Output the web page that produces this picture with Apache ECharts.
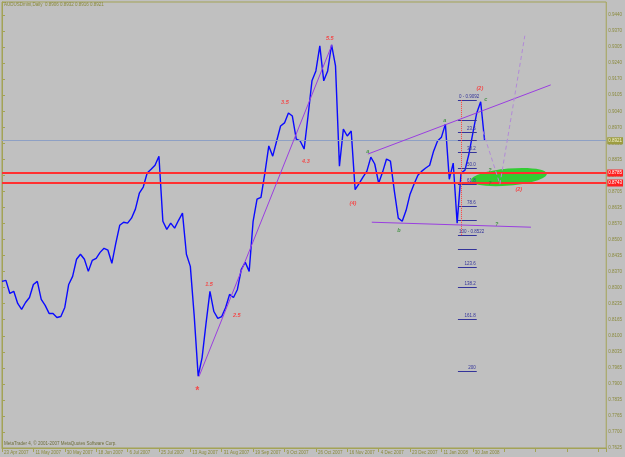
<!DOCTYPE html>
<html>
<head>
<meta charset="utf-8">
<title>AUDUSDmini,Daily</title>
<script src="https://cdn.jsdelivr.net/npm/echarts@6.0.0/dist/echarts.min.js"></script>
<style>
  html, body { margin: 0; padding: 0; background: #c0c0c0; }
  #chart { width: 625px; height: 457px; }
</style>
</head>
<body>
<div id="chart"></div>
<script>
// closes, one value every 2 daily bars
const closes = [
  0.8329, 0.8333, 0.8278, 0.8287, 0.8236, 0.8211, 0.8240, 0.8261, 0.8316, 0.8329,
  0.8253, 0.8228, 0.8194, 0.8194, 0.8177, 0.8181, 0.8219, 0.8316, 0.8350, 0.8422,
  0.8443, 0.8422, 0.8371, 0.8417, 0.8426, 0.8451, 0.8468, 0.8460, 0.8405, 0.8489,
  0.8565, 0.8578, 0.8574, 0.8595, 0.8633, 0.8700, 0.8726, 0.8785, 0.8801, 0.8818,
  0.8856, 0.8582, 0.8548, 0.8574, 0.8553, 0.8586, 0.8616, 0.8443, 0.8392, 0.8181,
  0.7930, 0.8008, 0.8152, 0.8287, 0.8202, 0.8173, 0.8181, 0.8219, 0.8274, 0.8261,
  0.8295, 0.8380, 0.8409, 0.8371, 0.8582, 0.8675, 0.8683, 0.8785, 0.8899, 0.8856,
  0.8920, 0.8983, 0.8996, 0.9038, 0.9025, 0.8928, 0.8920, 0.8886, 0.9025, 0.9173,
  0.9215, 0.9320, 0.9173, 0.9215, 0.9325, 0.9236, 0.8814, 0.8970, 0.8941, 0.8962,
  0.8715, 0.8740, 0.8768, 0.8793, 0.8852, 0.8823, 0.8742, 0.8789, 0.8844, 0.8835,
  0.8709, 0.8595, 0.8582, 0.8628, 0.8696, 0.8738, 0.8776, 0.8793, 0.8806, 0.8818,
  0.8877, 0.8920, 0.8936, 0.8991, 0.8759, 0.8827, 0.8574, 0.8785, 0.8797, 0.8865,
  0.8953, 0.9038, 0.9085, 0.8921
];
const BAR_STEP = 2;

const xLabels = ['23 Apr 2007', '11 May 2007', '30 May 2007', '18 Jun 2007', '6 Jul 2007',
  '25 Jul 2007', '13 Aug 2007', '31 Aug 2007', '19 Sep 2007', '9 Oct 2007', '26 Oct 2007',
  '16 Nov 2007', '4 Dec 2007', '23 Dec 2007', '11 Jan 2008', '30 Jan 2008'];
const X_STEP = 16, X_MAX = 308;

const yLabels = ['0.7625', '0.7700', '0.7765', '0.7835', '0.7900', '0.7965', '0.8035',
  '0.8100', '0.8165', '0.8235', '0.8300', '0.8370', '0.8435', '0.8500', '0.8570', '0.8635',
  '0.8705', '0.8770', '0.8835', '0.8905', '0.8970', '0.9040', '0.9105', '0.9170', '0.9240',
  '0.9305', '0.9370', '0.9440'];
const Y_MIN = 0.76275, Y_STEP = 0.00675, Y_MAX = 0.9505;

const redLevels = [0.8785, 0.8743];
const lastPrice = 0.8921;

// fibonacci tool drawn on the chart
const fibHigh = 0.9092, fibLow = 0.8522;
const fibLevels = [0, 14.6, 23.6, 30, 38.2, 50, 61.8, 78.6, 88.6, 100, 110, 123.6, 138.2, 161.8, 200];
const fibTexts  = ['0 - 0.9092', '', '23.6', '', '38.2', '50.0', '61.8', '78.6', '', '100 - 0.8522', '', '123.6', '138.2', '161.8', '200'];
const fibBars = [232.4, 242.0];
const fibStartBar = 233.9;

// trend lines [bar, price]
const trendLines = [
  [[100.4, 0.7928], [168.2, 0.9325]],
  [[186.5, 0.8865], [279.7, 0.9156]],
  [[188.5, 0.8578], [269.6, 0.8557]]
];
const projLines = [
  [[245.1, 0.8962], [253.8, 0.8738]],
  [[253.8, 0.8738], [266.5, 0.9363]]
];
const zoneCenter = [258.4, 0.8768];

// wave marks [bar, price, text]
const redMarks = [
  [167.1, 0.9350, '5.5'], [144.2, 0.9084, '3.5'], [154.9, 0.8835, '4.3'],
  [178.9, 0.8658, '(4)'], [105.5, 0.8316, '1.5'], [119.7, 0.8185, '2.5'],
  [243.6, 0.9143, '(2)'], [263.4, 0.8717, '(2)']
];
const starMark = [[99.4, 0.7865, '*']];
const greenMarks = [
  [186.5, 0.8877, 'a'], [225.7, 0.9008, 'a'], [246.6, 0.9093, 'c'], [202.3, 0.8544, 'b'],
  [248.7, 0.8797, '?'], [248.7, 0.8742, '?'], [252.2, 0.8569, '?']
];

const OLIVE = '#a3a356';
const FONT = 'Liberation Sans';

const chart = echarts.init(document.getElementById('chart'));

const markData = [];
redLevels.forEach(function (v) {
  markData.push({
    yAxis: v,
    lineStyle: { color: '#ff3030', width: 2, type: 'solid' },
    label: { show: true, position: 'end', distance: 1, formatter: v.toFixed(4),
      backgroundColor: '#ff2020', color: '#fff', fontSize: 4.5, fontFamily: FONT, padding: [1, 1] }
  });
});
markData.push({
  yAxis: lastPrice,
  lineStyle: { color: '#8ea0c4', width: 1, type: 'solid' },
  label: { show: true, position: 'end', distance: 1, formatter: lastPrice.toFixed(4),
    backgroundColor: '#9c9c40', color: '#f4f4d0', fontSize: 4.5, fontFamily: FONT, padding: [1, 1] }
});
fibLevels.forEach(function (lv, i) {
  const p = fibHigh - lv / 100 * (fibHigh - fibLow);
  const txt = fibTexts[i];
  const wide = txt.indexOf('-') > 0;
  markData.push([
    { coord: [fibBars[0], p],
      lineStyle: { color: '#34349a', width: 1, type: 'solid' },
      label: { show: txt !== '', formatter: txt, position: wide ? 'insideStartTop' : 'insideEndTop',
        distance: 1, color: '#34349a', fontSize: 4.5, fontFamily: FONT } },
    { coord: [fibBars[1], p] }
  ]);
});
markData.push([
  { coord: [fibStartBar, fibHigh], lineStyle: { color: '#ff4040', width: 1, type: 'dotted' }, label: { show: false } },
  { coord: [fibStartBar, fibLow] }
]);
trendLines.forEach(function (l) {
  markData.push([
    { coord: l[0], lineStyle: { color: '#9a3ee0', width: 1, type: 'solid' }, label: { show: false } },
    { coord: l[1] }
  ]);
});
projLines.forEach(function (l) {
  markData.push([
    { coord: l[0], lineStyle: { color: '#b28ad8', width: 1, type: [4, 3] }, label: { show: false } },
    { coord: l[1] }
  ]);
});

function markSeries(data, color, size) {
  return {
    type: 'scatter', data: data, symbolSize: 1, silent: true, z: 5,
    itemStyle: { color: 'rgba(0,0,0,0)' },
    label: { show: true, position: 'inside', formatter: function (p) { return p.value[2]; },
      color: color, fontSize: size, fontStyle: 'italic', fontWeight: 'bold', fontFamily: FONT }
  };
}

chart.setOption({
  animation: false,
  backgroundColor: '#c0c0c0',
  grid: { left: 2, top: 2, right: 18, bottom: 9, show: true, borderColor: OLIVE, borderWidth: 1 },
  xAxis: {
    type: 'value', min: 0, max: X_MAX, interval: X_STEP,
    axisLine: { show: true, onZero: false, lineStyle: { color: OLIVE } },
    axisTick: { show: true, length: 4, lineStyle: { color: OLIVE } },
    splitLine: { show: false },
    axisLabel: {
      color: '#8a8a3c', fontSize: 4.5, fontFamily: FONT, align: 'left', margin: 2, padding: [0, 0, 0, 2],
      formatter: function (v) { return xLabels[Math.round(v / X_STEP)] || ''; }
    }
  },
  yAxis: {
    type: 'value', position: 'right', min: Y_MIN, max: Y_MAX, interval: Y_STEP,
    axisLine: { show: true, lineStyle: { color: OLIVE } },
    axisTick: { show: true, length: 3, lineStyle: { color: OLIVE } },
    splitLine: { show: false },
    axisLabel: {
      color: '#8a8a3c', fontSize: 4.5, fontFamily: FONT, margin: 2,
      formatter: function (v) {
        const i = Math.round((v - Y_MIN) / Y_STEP);
        return Math.abs(v - (Y_MIN + i * Y_STEP)) < 1e-6 ? (yLabels[i] || '') : '';
      }
    }
  },
  series: [
    {
      type: 'line', showSymbol: false, z: 3,
      data: closes.map(function (v, i) { return [i * BAR_STEP, v]; }),
      lineStyle: { color: '#0a0aff', width: 1.4 },
      markLine: { silent: true, precision: 5, symbol: ['none', 'none'], animation: false, data: markData }
    },
    markSeries(redMarks, '#ff2a2a', 5.5),
    markSeries(starMark, '#ff2a2a', 10),
    markSeries(greenMarks, '#2e8b2e', 5.5)
  ]
});

const c = chart.convertToPixel({ gridIndex: 0 }, zoneCenter);
chart.setOption({
  graphic: [
    { type: 'ellipse', x: c[0], y: c[1], rotation: 0.09, z: 1,
      shape: { cx: 0, cy: 0, rx: 38, ry: 8.5 }, style: { fill: '#33cc33' } },
    { type: 'text', left: 4, top: 2, z: 10,
      style: { text: 'AUDUSDmini,Daily  0.8906 0.8932 0.8916 0.8921', fill: '#8a8a3c', fontSize: 4.5, fontFamily: FONT } },
    { type: 'text', left: 4, top: 441, z: 10,
      style: { text: 'MetaTrader 4, © 2001-2007 MetaQuotes Software Corp.', fill: '#6e6e3a', fontSize: 4.5, fontFamily: FONT } }
  ]
});
</script>
</body>
</html>
